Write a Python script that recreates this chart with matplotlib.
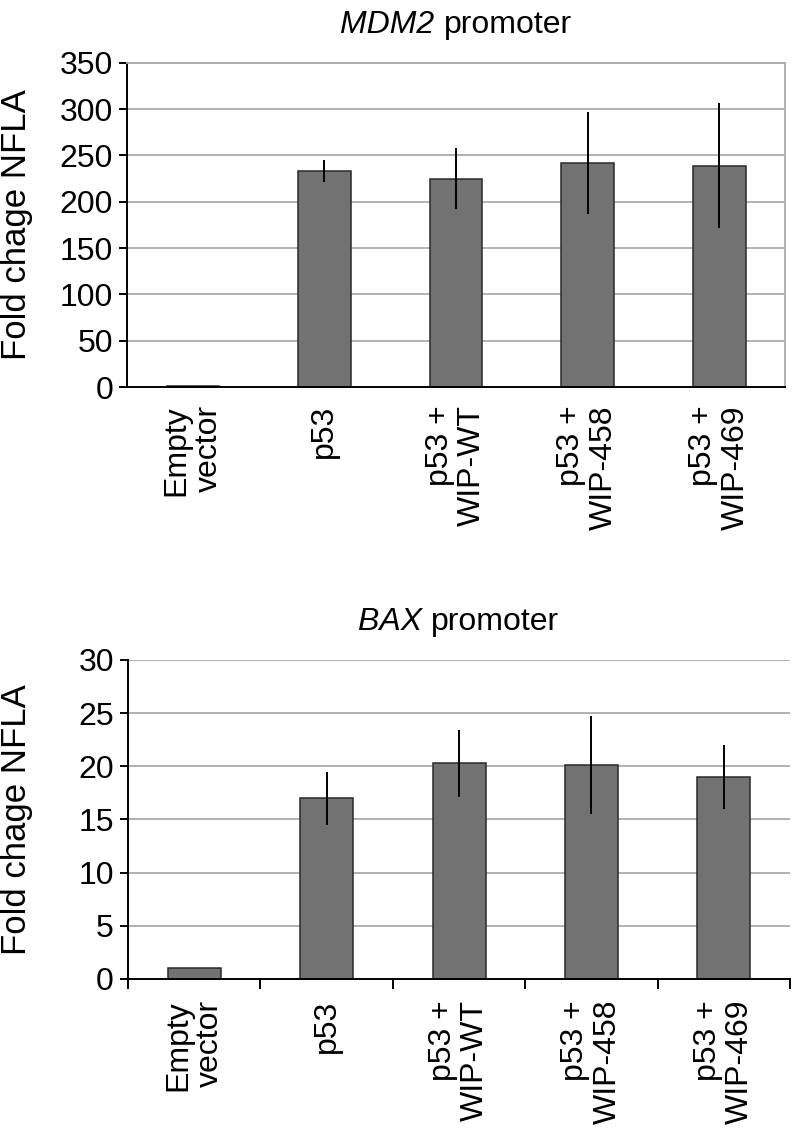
import matplotlib
matplotlib.use("Agg")
import matplotlib.pyplot as plt
import matplotlib.transforms as mtransforms
import numpy as np

plt.rcParams['font.family'] = ['Liberation Sans', 'DejaVu Sans']

# Data
categories = ["Empty\nvector", "p53", "p53 +\nWIP-WT", "p53 +\nWIP-458", "p53 +\nWIP-469"]

mdm2_values = [1.5, 233, 225, 242, 239]
mdm2_errors = [0, 12, 33, 55, 67]

bax_values = [1.0, 17.0, 20.3, 20.1, 19.0]
bax_errors = [0, 2.5, 3.15, 4.6, 3.0]

bar_color = '#727272'
edge_color = '#2a2a2a'
grid_color = '#ababab'

fig = plt.figure(figsize=(7.94, 11.32), dpi=100)
renderer = fig.canvas.get_renderer()

ax1 = fig.add_axes([0.160, 0.658, 0.8287, 0.2866])
ax2 = fig.add_axes([0.161, 0.1352, 0.8342, 0.2818])

x = np.arange(len(categories))


def mixed_title(ax, gene, rest, size=23, pad_px=30):
    # italic gene name followed by upright text, centred over the axes
    t1 = ax.text(0.5, 1, gene + " ", style='italic', fontsize=size, transform=ax.transAxes)
    t2 = ax.text(0.5, 1, rest, fontsize=size, transform=ax.transAxes)
    w1 = t1.get_window_extent(renderer).width
    w2 = t2.get_window_extent(renderer).width
    total = w1 + w2
    t1.set_transform(mtransforms.offset_copy(ax.transAxes, fig=fig, x=-total / 2,
                                             y=pad_px, units='dots'))
    t2.set_transform(mtransforms.offset_copy(ax.transAxes, fig=fig, x=-total / 2 + w1,
                                             y=pad_px, units='dots'))
    for t in (t1, t2):
        t.set_ha('left')
        t.set_va('baseline')


def draw_panel(ax, values, errors, ymax, ystep, title_gene, xpad):
    ax.set_axisbelow(True)
    ax.bar(x, values, width=0.4, color=bar_color, edgecolor=edge_color, linewidth=1.1,
           yerr=errors, error_kw=dict(ecolor='black', elinewidth=1.4, capsize=0))
    ax.set_xlim(-0.5, len(categories) - 0.5)
    ax.set_ylim(0, ymax)
    ax.set_yticks(np.arange(0, ymax + ystep, ystep))
    ax.yaxis.grid(True, color=grid_color, linewidth=1.3)
    ax.set_xticks(x)
    ax.set_xticklabels(categories, rotation=90, fontsize=23, multialignment='right',
                       linespacing=1.1)
    ax.tick_params(axis='y', labelsize=23, length=6, width=1.4, direction='out', pad=4)
    ax.tick_params(axis='x', length=0, pad=xpad)
    for s in ('left', 'bottom'):
        ax.spines[s].set_linewidth(1.4)
        ax.spines[s].set_color('black')
    ax.set_ylabel("Fold chage NFLA", fontsize=25)
    ax.yaxis.set_label_coords(-0.143, 0.5)
    mixed_title(ax, title_gene, "promoter")


draw_panel(ax1, mdm2_values, mdm2_errors, 350, 50, "MDM2", 13)
draw_panel(ax2, bax_values, bax_errors, 30, 5, "BAX", 15)

# top panel: grey box on top and right
for s in ('top', 'right'):
    ax1.spines[s].set_color(grid_color)
    ax1.spines[s].set_linewidth(1.3)

# bottom panel: open on top/right, tick marks between categories
ax2.spines['top'].set_visible(False)
ax2.spines['right'].set_visible(False)
ax2.set_xticks(np.arange(-0.5, len(categories), 1), minor=True)
ax2.tick_params(axis='x', which='minor', length=7, width=1.4, direction='out')

fig.savefig("out.png", dpi=100)
